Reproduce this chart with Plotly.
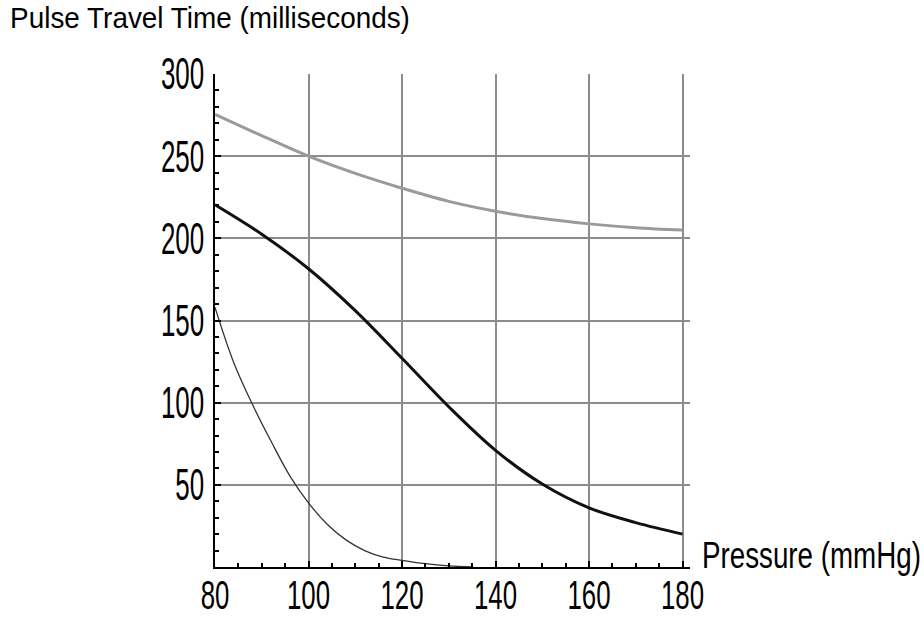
import plotly.graph_objects as go

# Data
gray_x = [80, 90, 100, 110, 120, 130, 140, 150, 160, 170, 180]
gray_y = [275.5, 262.5, 250, 239.5, 230.5, 222.5, 216.5, 212, 208.8, 206.5, 205]

dark_x = [80, 90, 100, 110, 120, 130, 140, 150, 160, 170, 180]
dark_y = [220.4, 202.5, 181.5, 156, 127, 97.5, 71, 50.5, 36, 27, 20]

thin_x = [80, 84, 88, 92, 96, 100, 104, 108, 112, 116, 120, 125, 130, 135]
thin_y = [158, 124.5, 99, 76.5, 55.5, 39, 26, 16.5, 10, 6, 4, 2, 0.7, 0]

x_ticks = [80, 100, 120, 140, 160, 180]
y_ticks = [50, 100, 150, 200, 250, 300]

x_title = "Pressure (mmHg)"
y_title = "Pulse Travel Time (milliseconds)"

FAMILY = "Liberation Sans, Arial, sans-serif"

fig = go.Figure()
fig.add_trace(go.Scatter(x=gray_x, y=gray_y, mode="lines",
                         line=dict(color="#9a9a9a", width=3, shape="spline"), showlegend=False))
fig.add_trace(go.Scatter(x=dark_x, y=dark_y, mode="lines",
                         line=dict(color="#111111", width=3, shape="spline"), showlegend=False))
fig.add_trace(go.Scatter(x=thin_x, y=thin_y, mode="lines",
                         line=dict(color="#333333", width=1.3, shape="spline"), showlegend=False))

axis_common = dict(showgrid=True, gridcolor="#8c8c8c", gridwidth=1.5,
                   showline=True, linecolor="#000", linewidth=2,
                   ticks="inside", ticklen=6, tickwidth=1.5, tickcolor="#000",
                   zeroline=False, automargin=False)

fig.update_layout(
    template="none",
    width=924, height=621,
    margin=dict(l=215, r=234, t=74, b=54),
    paper_bgcolor="white", plot_bgcolor="white",
    xaxis=dict(range=[80, 181.6], tickvals=x_ticks, ticktext=[str(v) for v in x_ticks],
               tickfont=dict(family=FAMILY, size=41, color="#000"),
               minor=dict(dtick=5, tick0=80, ticks="inside", ticklen=4, tickwidth=1.5,
                          tickcolor="#000", showgrid=False),
               **axis_common),
    yaxis=dict(range=[0, 300], tickvals=y_ticks, ticktext=[str(v) for v in y_ticks],
               tickfont=dict(family=FAMILY, size=44, color="#000"),
               minor=dict(dtick=10, tick0=0, ticks="inside", ticklen=4, tickwidth=1.5,
                          tickcolor="#000", showgrid=False),
               **axis_common),
    annotations=[
        dict(text=y_title, xref="paper", yref="paper",
             x=(8 - 215) / 475, y=1 + (74 + 1) / 493, xanchor="left", yanchor="top",
             showarrow=False, font=dict(family=FAMILY, size=30, color="#000")),
        dict(text=x_title, xref="paper", yref="paper",
             x=(700 - 215) / 475, y=(567 - 555) / 493, xanchor="left", yanchor="middle",
             showarrow=False, font=dict(family=FAMILY, size=37, color="#000")),
    ],
)

# horizontally condense the text (the reference uses a tall, narrow typeface)
post = """
function sq(t, sx, mode, dy){
  var bb = t.getBBox();
  var cx = mode === 'c' ? bb.x + bb.width/2 : (mode === 'r' ? bb.x + bb.width : bb.x);
  var cy = bb.y + bb.height/2;
  var tr = t.getAttribute('transform') || '';
  t.setAttribute('transform', tr + ' translate(0,' + dy + ') translate(' + cx + ',' + cy + ') scale(' + sx + ',1) translate(' + (-cx) + ',' + (-cy) + ')');
}
document.querySelectorAll('.xtick text').forEach(function(t){ sq(t, 0.63, 'c', -9); });
document.querySelectorAll('.ytick text').forEach(function(t){ sq(t, 0.59, 'r', 0); });
var ann = document.querySelectorAll('.annotation-text');
if (ann.length > 0) sq(ann[0], 0.93, 'l', 0);
if (ann.length > 1) sq(ann[1], 0.75, 'l', 0);
"""

fig.write_html("out.html", post_script=post)
